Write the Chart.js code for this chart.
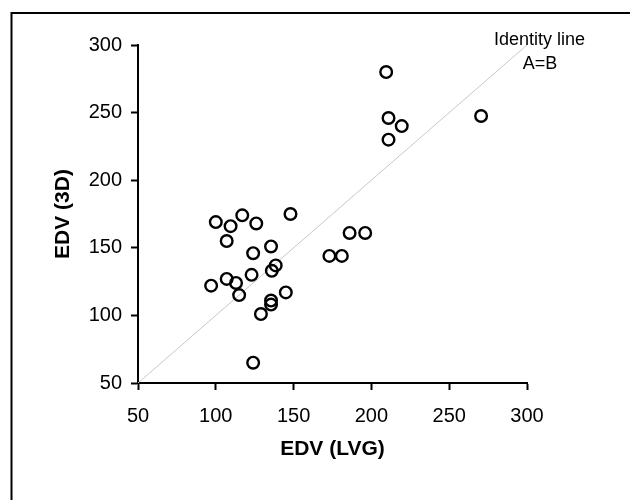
<!DOCTYPE html>
<html>
<head>
<meta charset="utf-8">
<script src="https://cdn.jsdelivr.net/npm/chart.js@4"></script>
<style>
  html, body { margin: 0; padding: 0; background: #fff; }
  #wrap { width: 630px; height: 500px; }
</style>
</head>
<body>
<div id="wrap"><canvas id="edvChart" width="630" height="500"></canvas></div>
<script>
// EDV measured by LV angiography (x) vs 3D echo (y)
const edvLvg = [100, 109.5, 117, 126, 148, 107, 135.5, 124, 138.5, 136, 123, 97, 107, 113, 115, 145, 135.5, 135.5, 129, 124, 173, 181, 186, 196, 209.5, 211, 219.5, 211, 270.5];
const edv3d  = [169, 166, 174, 168, 175, 155, 151, 146, 137, 133, 130, 122, 127, 124, 115, 117, 111, 108, 101, 65, 144, 144, 161, 161, 280, 246, 240, 230, 247.5];
const identityVals = [50, 300];
const axisTicks = [50, 100, 150, 200, 250, 300];
const identityLabel = ["Identity line", "A=B"];

const fontFamily = "'Liberation Sans', Arial, sans-serif";

// frame around the figure (open on the right/bottom like the source crop)
const framePlugin = {
  id: "frame",
  beforeDraw(chart) {
    const ctx = chart.ctx;
    ctx.save();
    ctx.fillStyle = "#fff";
    ctx.fillRect(0, 0, chart.width, chart.height);
    ctx.strokeStyle = "#000";
    ctx.lineWidth = 2;
    ctx.beginPath();
    ctx.moveTo(11.5, chart.height);
    ctx.lineTo(11.5, 13);
    ctx.lineTo(chart.width, 13);
    ctx.stroke();
    ctx.restore();
  },
};

// "Identity line / A=B" note at the top end of the line
const identityNote = {
  id: "identityNote",
  afterDraw(chart) {
    const { ctx, scales } = chart;
    const px = scales.x.getPixelForValue(identityVals[1]);
    const py = scales.y.getPixelForValue(identityVals[1]);
    ctx.save();
    ctx.fillStyle = "#000";
    ctx.font = "18px " + fontFamily;
    ctx.textAlign = "center";
    ctx.textBaseline = "middle";
    ctx.fillText(identityLabel[0], px + 12.5, py - 5);
    ctx.fillText(identityLabel[1], px + 13, py + 19);
    ctx.restore();
  },
};

const axisCommon = {
  type: "linear",
  min: axisTicks[0],
  max: axisTicks[axisTicks.length - 1],
  afterBuildTicks: (scale) => {
    scale.ticks = axisTicks.map((v) => ({ value: v }));
  },
  grid: {
    display: true,
    drawOnChartArea: false,
    drawTicks: true,
    tickLength: 7,
    tickWidth: 2,
    tickColor: "#000",
  },
  border: { display: true, color: "#000", width: 2 },
  ticks: {
    color: "#000",
    font: { family: fontFamily, size: 20 },
  },
};

const ctx = document.getElementById("edvChart").getContext("2d");
new Chart(ctx, {
  type: "scatter",
  data: {
    datasets: [
      {
        label: "Identity line",
        data: identityVals.map((v) => ({ x: v, y: v })),
        showLine: true,
        borderColor: "#c8c8c8",
        borderWidth: 1,
        pointRadius: 0,
        order: 2,
      },
      {
        label: "EDV",
        data: edvLvg.map((x, i) => ({ x: x, y: edv3d[i] })),
        pointStyle: "circle",
        pointRadius: 5.8,
        pointBorderWidth: 2.4,
        pointBorderColor: "#000",
        pointBackgroundColor: "rgba(255,255,255,0)",
        showLine: false,
        order: 1,
      },
    ],
  },
  options: {
    responsive: false,
    animation: false,
    layout: { padding: { left: 0, top: 45, right: 103, bottom: 0 } },
    plugins: {
      legend: { display: false },
      tooltip: { enabled: false },
    },
    scales: {
      x: {
        ...axisCommon,
        position: "bottom",
        ticks: { ...axisCommon.ticks, padding: 14 },
        title: {
          display: true,
          text: "EDV (LVG)",
          color: "#000",
          font: { family: fontFamily, size: 21, weight: "bold" },
          padding: { top: 0, bottom: 38 },
        },
        afterFit: (scale) => { scale.height = 117; },
      },
      y: {
        ...axisCommon,
        position: "left",
        ticks: { ...axisCommon.ticks, padding: 9 },
        title: {
          display: true,
          text: "EDV (3D)",
          color: "#000",
          font: { family: fontFamily, size: 21, weight: "bold" },
          padding: { top: 51, bottom: 0 },
        },
        afterFit: (scale) => { scale.width = 138; },
      },
    },
  },
  plugins: [framePlugin, identityNote],
});
</script>
</body>
</html>
